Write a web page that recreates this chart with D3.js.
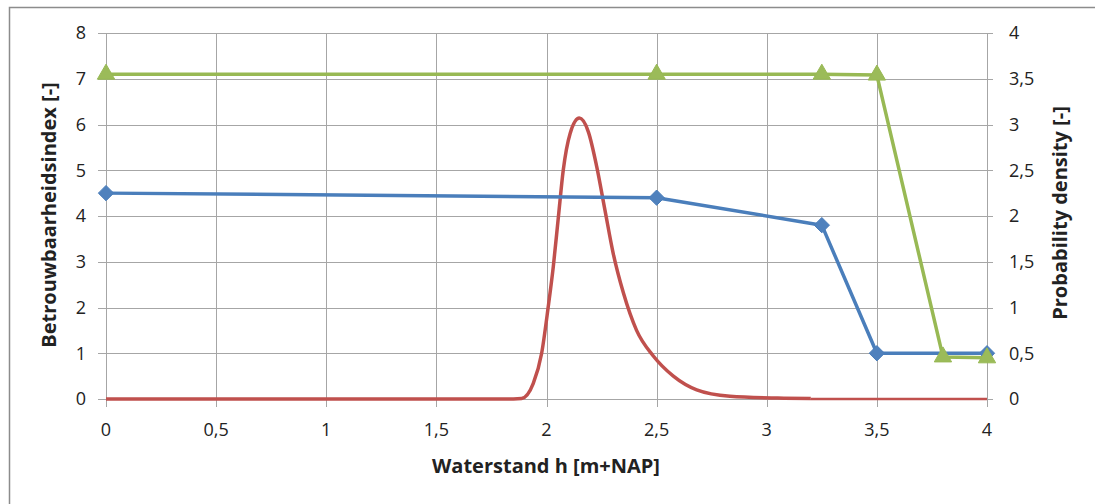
<!DOCTYPE html>
<html><head><meta charset="utf-8">
<script src="https://cdn.jsdelivr.net/npm/d3@7"></script>
<style>
html,body{margin:0;padding:0;background:#fff;}
svg text{font-family:"Open Sans",Lato,sans-serif;fill:#222;}
</style></head>
<body>
<script>
// ---- data ----
const blueX = [0, 2.5, 3.25, 3.5, 4];
const blueY = [4.5, 4.4, 3.8, 1.0, 1.0];
const greenX = [0, 2.5, 3.25, 3.5, 3.8, 4];
const greenY = [7.1, 7.1, 7.1, 7.08, 0.92, 0.9];
const redX = [0, 1.85, 1.887, 1.94, 1.978, 2.008, 2.031, 2.054, 2.076, 2.107, 2.149, 2.19, 2.228, 2.265, 2.303, 2.349, 2.409, 2.485, 2.576, 2.682, 2.833, 3.05, 3.2];
const redY = [0, 0, 0.005, 0.17, 0.5, 1.01, 1.45, 1.99, 2.5, 2.9, 3.07, 2.92, 2.54, 2.07, 1.59, 1.16, 0.75, 0.47, 0.25, 0.10, 0.03, 0.01, 0.005];
const redTailX = [3.2, 4];
const redTailY = [0, 0];
const xTicks = [0, 0.5, 1, 1.5, 2, 2.5, 3, 3.5, 4];
const xTickLabels = ["0", "0,5", "1", "1,5", "2", "2,5", "3", "3,5", "4"];
const yLeftTicks = [0, 1, 2, 3, 4, 5, 6, 7, 8];
const yLeftLabels = ["0", "1", "2", "3", "4", "5", "6", "7", "8"];
const yRightTicks = [0, 0.5, 1, 1.5, 2, 2.5, 3, 3.5, 4];
const yRightLabels = ["0", "0,5", "1", "1,5", "2", "2,5", "3", "3,5", "4"];
const xTitle = "Waterstand h [m+NAP]";
const yLeftTitle = "Betrouwbaarheidsindex [-]";
const yRightTitle = "Probability density [-]";

// ---- layout ----
const W = 1095, H = 504;
const L = 106, R = 987, T = 33, B = 399;
const svg = d3.select("body").append("svg").attr("width", W).attr("height", H);

svg.append("rect").attr("x", 9.5).attr("y", 7.5).attr("width", 1200).attr("height", 600)
  .attr("fill", "#fff").attr("stroke", "#8c8c8c").attr("stroke-width", 1.5);

const x = d3.scaleLinear().domain([0, 4]).range([L, R]);
const yL = d3.scaleLinear().domain([0, 8]).range([B, T]);
const yR = d3.scaleLinear().domain([0, 4]).range([B, T]);

const gridColor = "#a6a6a6";
svg.append("g").selectAll("line").data(yLeftTicks).join("line")
  .attr("x1", L - 8).attr("x2", R + 6)
  .attr("y1", d => Math.round(yL(d)) + 0.5).attr("y2", d => Math.round(yL(d)) + 0.5)
  .attr("stroke", gridColor).attr("stroke-width", 1);
svg.append("g").selectAll("line").data(xTicks).join("line")
  .attr("x1", d => Math.round(x(d)) + 0.5).attr("x2", d => Math.round(x(d)) + 0.5)
  .attr("y1", T).attr("y2", B + 8)
  .attr("stroke", gridColor).attr("stroke-width", 1);

// tick labels
svg.append("g").selectAll("text").data(yLeftTicks).join("text")
  .attr("x", L - 20).attr("y", d => yL(d)).attr("dy", "0.36em")
  .attr("text-anchor", "end").attr("font-size", 18)
  .text((d, i) => yLeftLabels[i]);
svg.append("g").selectAll("text").data(yRightTicks).join("text")
  .attr("x", R + 22).attr("y", d => yR(d)).attr("dy", "0.36em")
  .attr("text-anchor", "start").attr("font-size", 18)
  .text((d, i) => yRightLabels[i]);
svg.append("g").selectAll("text").data(xTicks).join("text")
  .attr("x", d => x(d)).attr("y", B + 37)
  .attr("text-anchor", "middle").attr("font-size", 18)
  .text((d, i) => xTickLabels[i]);

// titles
svg.append("text").attr("x", 546).attr("y", 473)
  .attr("text-anchor", "middle").attr("font-size", 20).attr("font-weight", "bold").text(xTitle);
svg.append("text").attr("transform", "translate(56,215) rotate(-90)")
  .attr("text-anchor", "middle").attr("font-size", 20).attr("font-weight", "bold").text(yLeftTitle);
svg.append("text").attr("transform", "translate(1067,213) rotate(-90)")
  .attr("text-anchor", "middle").attr("font-size", 20).attr("font-weight", "bold").text(yRightTitle);

// series
const red = "#c0504d", blue = "#4a7ebb", green = "#98b954";
const redLine = d3.line().x(d => x(d[0])).y(d => yR(d[1])).curve(d3.curveMonotoneX);
svg.append("path").datum(redTailX.map((v, i) => [v, redTailY[i]]))
  .attr("d", d3.line().x(d => x(d[0])).y(d => yR(d[1])))
  .attr("fill", "none").attr("stroke", red).attr("stroke-width", 2.5);
svg.append("path").datum(redX.map((v, i) => [v, redY[i]]))
  .attr("d", redLine).attr("fill", "none").attr("stroke", red).attr("stroke-width", 3.5)
  .attr("stroke-linejoin", "round");

const lineL = d3.line().x(d => x(d[0])).y(d => yL(d[1]));
const bluePts = blueX.map((v, i) => [v, blueY[i]]);
const greenPts = greenX.map((v, i) => [v, greenY[i]]);

svg.append("path").datum(bluePts).attr("d", lineL).attr("fill", "none")
  .attr("stroke", blue).attr("stroke-width", 3.5).attr("stroke-linejoin", "round");
svg.append("g").selectAll("path").data(bluePts).join("path")
  .attr("transform", d => `translate(${x(d[0])},${yL(d[1])})`)
  .attr("d", d3.symbol(d3.symbolDiamond2, 150)())
  .attr("fill", "#4f81bd").attr("stroke", blue).attr("stroke-width", 1);

svg.append("path").datum(greenPts).attr("d", lineL).attr("fill", "none")
  .attr("stroke", green).attr("stroke-width", 3.5).attr("stroke-linejoin", "round");
svg.append("g").selectAll("path").data(greenPts).join("path")
  .attr("transform", d => `translate(${x(d[0])},${yL(d[1])})`)
  .attr("d", d3.symbol(d3.symbolTriangle, 130)())
  .attr("fill", "#9bbb59").attr("stroke", green).attr("stroke-width", 1);
</script>
</body></html>
